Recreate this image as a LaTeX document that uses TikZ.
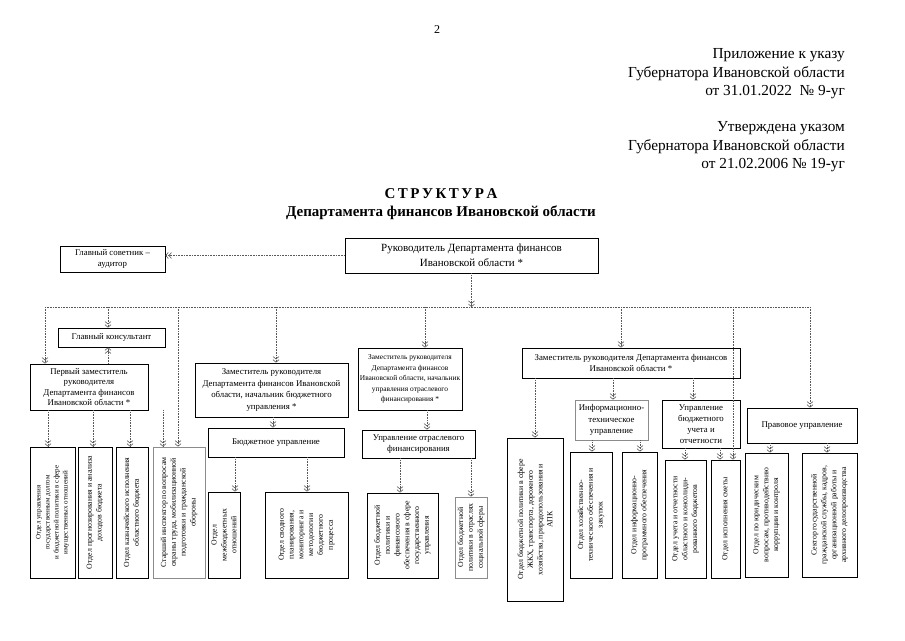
\documentclass[tikz,border=0pt]{standalone}
\usepackage{fontspec}
\setmainfont{Liberation Serif}
\usetikzlibrary{arrows.meta}

\begin{document}
\begin{tikzpicture}[x=1pt,y=-1pt,
  box/.style={draw,line width=0.8pt,inner sep=1pt,align=center,font=\fontsize{8.8}{11.5}\selectfont},
  vbox/.style={box,rotate=90,font=\fontsize{7.8}{9.8}\selectfont},
  greybox/.style={draw=black!45},
  link/.style={densely dotted,line width=0.6pt,draw=black!65},
  arr/.style={link,-{Straight Barb[length=2.5pt,width=6pt]Straight Barb[length=2.5pt,width=6pt]}}]
  \fill[white] (0,0) rectangle (905,640);
  \useasboundingbox (0,0) rectangle (905,640);

  \node[font=\fontsize{12}{14}\selectfont] (page) at (437,30) {2};
  \node[anchor=north east,inner sep=0pt,align=right,font=\fontsize{15.3}{18.8}\selectfont] (decree) at (845,48)
    {Приложение к указу\\Губернатора Ивановской области\\от 31.01.2022~~№ 9-уг};
  \node[anchor=north east,inner sep=0pt,align=right,font=\fontsize{15.3}{18.8}\selectfont] (approved) at (845,121)
    {Утверждена указом\\Губернатора Ивановской области\\от 21.02.2006 № 19-уг};
  \node[font=\fontsize{15}{18}\bfseries] (title) at (441,194) {С\,Т\,Р\,У\,К\,Т\,У\,Р\,А};
  \node[font=\fontsize{15}{18}\bfseries] (subtitle) at (441,213) {Департамента финансов Ивановской области};

  \node[box,minimum width=253,minimum height=35,font=\fontsize{11}{15}\selectfont] (boss) at (471.5,255.5)
    {Руководитель Департамента финансов\\Ивановской области *};
  \node[box,minimum width=105,minimum height=26] (auditor) at (112.5,259) {Главный советник –\\аудитор};
  \node[box,minimum width=107,minimum height=19] (consult) at (111.5,337.5) {Главный консультант};
  \node[box,minimum width=118,minimum height=46,font=\fontsize{8.8}{10.5}\selectfont] (first) at (89,387)
    {Первый заместитель\\руководителя\\Департамента финансов\\Ивановской области *};
  \node[box,minimum width=153,minimum height=54] (depb) at (271.5,390)
    {Заместитель руководителя\\Департамента финансов Ивановской\\области, начальник бюджетного\\управления *};
  \node[box,minimum width=104,minimum height=62,font=\fontsize{7.4}{10.5}\selectfont] (depo) at (410,379)
    {Заместитель руководителя\\Департамента финансов\\Ивановской области, начальник\\управления отраслевого\\финансирования *};
  \node[box,minimum width=218,minimum height=30] (depr) at (631,363)
    {Заместитель руководителя Департамента финансов\\Ивановской области *};
  \node[box,minimum width=136,minimum height=29] (budget) at (276,442.5) {Бюджетное управление};
  \node[box,minimum width=113,minimum height=28] (branch) at (418.5,444) {Управление отраслевого\\финансирования};
  \node[box,greybox,minimum width=73,minimum height=40] (it) at (611.5,420) {Информационно-\\техническое\\управление};
  \node[box,minimum width=78,minimum height=48,font=\fontsize{8.8}{10.8}\selectfont] (acct) at (701,424)
    {Управление\\бюджетного\\учета и\\отчетности};
  \node[box,minimum width=110,minimum height=35] (legal) at (802,425.5) {Правовое управление};

  \node[vbox,minimum width=131,minimum height=45,font=\fontsize{7}{9}\selectfont] (d1) at (52.5,512.5)
    {Отдел управления\\государственным долгом\\и бюджетной политики в сфере\\имущественных отношений};
  \node[vbox,minimum width=131,minimum height=34] (d2) at (95,512.5)
    {Отдел прогнозирования и анализа\\доходов бюджета};
  \node[vbox,minimum width=131,minimum height=32] (d3) at (132,512.5)
    {Отдел казначейского исполнения\\областного бюджета};
  \node[vbox,greybox,minimum width=131,minimum height=52] (d4) at (179,512.5)
    {Старший инспектор по вопросам\\охраны труда, мобилизационной\\подготовки и гражданской\\обороны};
  \node[vbox,minimum width=86,minimum height=32] (d5) at (224,535)
    {Отдел\\межбюджетных\\отношений};
  \node[vbox,minimum width=86,minimum height=83] (d6) at (306.5,535)
    {Отдел сводного\\планирования,\\мониторинга и\\методологии\\бюджетного\\процесса};
  \node[vbox,minimum width=85,minimum height=71] (d7) at (402.5,535.5)
    {Отдел бюджетной\\политики и\\финансового\\обеспечения в сфере\\государственного\\управления};
  \node[vbox,greybox,minimum width=81,minimum height=32] (d8) at (471,537.5)
    {Отдел бюджетной\\политики в отраслях\\социальной сферы};
  \node[vbox,minimum width=163,minimum height=56] (d9) at (535,519.5)
    {Отдел бюджетной политики в сфере\\ЖКХ, транспорта, дорожного\\хозяйства, природопользования и\\АПК};
  \node[vbox,minimum width=126,minimum height=42] (d10) at (591,515)
    {Отдел хозяйственно-\\технического обеспечения и\\закупок};
  \node[vbox,minimum width=126,minimum height=35] (d11) at (639.5,515)
    {Отдел информационно-\\программного обеспечения};
  \node[vbox,minimum width=118,minimum height=41] (d12) at (685.5,519)
    {Отдел учета и отчетности\\областного и консолиди-\\рованного бюджетов};
  \node[vbox,minimum width=118,minimum height=29] (d13) at (725.5,519) {Отдел исполнения сметы};
  \node[vbox,minimum width=124,minimum height=43] (d14) at (766.5,515)
    {Отдел по юридическим\\вопросам, противодействию\\коррупции и контроля};
  \node[vbox,minimum width=124,minimum height=55] (d15) at (829.5,515)
    {Сектор государственной\\гражданской службы, кадров,\\организационной работы и\\архивного делопроизводства};

  \coordinate (bus1) at (45,307);
  \coordinate (bus2) at (108,307);
  \coordinate (bus3) at (178,307);
  \coordinate (bus4) at (276,307);
  \coordinate (bus5) at (425,307);
  \coordinate (bus6) at (621,307);
  \coordinate (bus7) at (733,307);
  \coordinate (bus8) at (810,307);

  \draw[arr] (boss.west) -- (auditor.east |- boss.west);
  \draw[arr] (boss.south) -- (boss.south |- bus1);
  \draw[link] (bus1) -- (bus8);
  \foreach \c/\n in {bus1/first.north,bus2/consult.north,bus3/d4.east,bus4/depb.north,
                     bus5/depo.north,bus6/depr.north,bus7/d13.east,bus8/legal.north}
    {\draw[arr] (\c) -- (\c |- \n);}
  \draw[arr] (first.north -| bus2) -- (consult.south -| bus2);
  \foreach \x/\a/\b in {48/first.south/d1.east,93/first.south/d2.east,130/first.south/d3.east,
                        163/first.south/d4.east,273/depb.south/budget.north,
                        235/budget.south/d5.east,307/budget.south/d6.east,
                        427/depo.south/branch.north,400/branch.south/d7.east,471/branch.south/d8.east,
                        535/depr.south/d9.east,613/depr.south/it.north,693/depr.south/acct.north,
                        592/it.south/d10.east,640/it.south/d11.east,
                        685/acct.south/d12.east,720/acct.south/d13.east,
                        770/legal.south/d14.east,827/legal.south/d15.east}
    {\draw[arr] (\a -| \x,0) -- (\b -| \x,0);}
\end{tikzpicture}
\end{document}
